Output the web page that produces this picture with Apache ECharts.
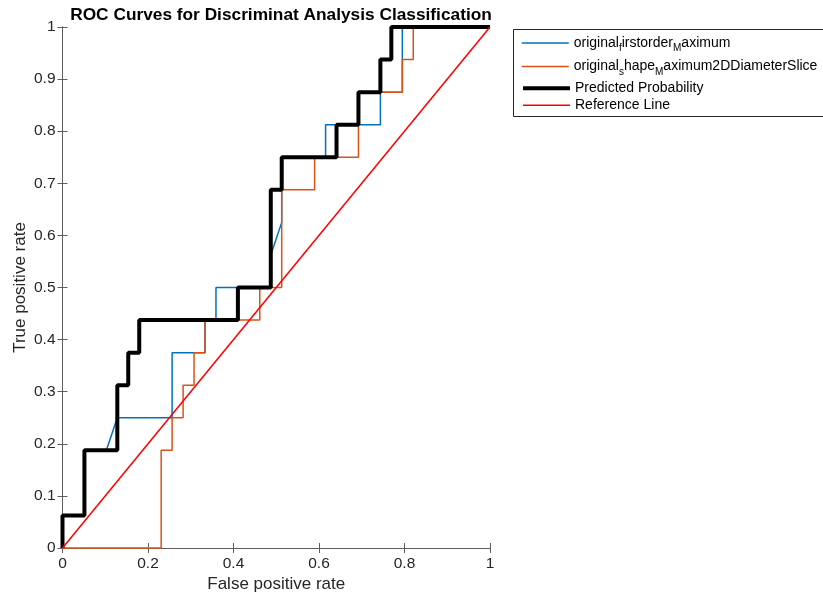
<!DOCTYPE html>
<html>
<head>
<meta charset="utf-8">
<script src="https://cdn.jsdelivr.net/npm/echarts@6/dist/echarts.min.js"></script>
<style>
  html, body { margin: 0; padding: 0; background: #fff; }
  #chart { width: 823px; height: 599px; }
</style>
</head>
<body>
<div id="chart"></div>
<script>
// ROC curve points (false positive rate, true positive rate) for each classifier
const firstorderFpr = [0, 0, 0.0513, 0.0513, 0.1026, 0.1282, 0.2564, 0.2564, 0.3333, 0.3333, 0.3590, 0.3590,
  0.4872, 0.4872, 0.5128, 0.5128, 0.6154, 0.6154, 0.7436, 0.7436, 0.7949, 0.7949, 1];
const firstorderTpr = [0, 0.0625, 0.0625, 0.1875, 0.1875, 0.25, 0.25, 0.375, 0.375, 0.4375, 0.4375, 0.5,
  0.5, 0.5625, 0.625, 0.75, 0.75, 0.8125, 0.8125, 0.875, 0.875, 1, 1];

const shapeFpr = [0, 0.2308, 0.2308, 0.2564, 0.2564, 0.2821, 0.2821, 0.3077, 0.3077, 0.3333, 0.3333, 0.4615,
  0.4615, 0.5128, 0.5128, 0.5897, 0.5897, 0.6923, 0.6923, 0.7949, 0.7949, 0.8205, 0.8205, 1];
const shapeTpr = [0, 0, 0.1875, 0.1875, 0.25, 0.25, 0.3125, 0.3125, 0.375, 0.375, 0.4375, 0.4375,
  0.5, 0.5, 0.6875, 0.6875, 0.75, 0.75, 0.875, 0.875, 0.9375, 0.9375, 1, 1];

const predictedFpr = [0, 0, 0.0513, 0.0513, 0.1282, 0.1282, 0.1538, 0.1538, 0.1795, 0.1795, 0.4103, 0.4103,
  0.4872, 0.4872, 0.5128, 0.5128, 0.6410, 0.6410, 0.6923, 0.6923, 0.7436, 0.7436, 0.7692, 0.7692, 1];
const predictedTpr = [0, 0.0625, 0.0625, 0.1875, 0.1875, 0.3125, 0.3125, 0.375, 0.375, 0.4375, 0.4375, 0.5,
  0.5, 0.6875, 0.6875, 0.75, 0.75, 0.8125, 0.8125, 0.875, 0.875, 0.9375, 0.9375, 1, 1];

const referenceFpr = [0, 1];
const referenceTpr = [0, 1];

const seriesNames = [
  'original_firstorder_Maximum',
  'original_shape_Maximum2DDiameterSlice',
  'Predicted Probability',
  'Reference Line'
];
// legend text with MATLAB-style underscore subscripts
const legendLabels = [
  '{a|original}{b|f}{a|irstorder}{b|M}{a|aximum}',
  '{a|original}{b|s}{a|hape}{b|M}{a|aximum2DDiameterSlice}',
  '{p|Predicted Probability}',
  '{p|Reference Line}'
];

const zip = (xs, ys) => xs.map((x, i) => [x, ys[i]]);

const FONT = 'Liberation Sans, Arial, Helvetica, sans-serif';
const AXIS_GRAY = '#5e5e5e';
const TEXT = '#262626';
const COLORS = ['#0072BD', '#D95319', '#000000', '#FF0000'];
const WIDTHS = [1.5, 1.5, 4, 1.5];

const chart = echarts.init(document.getElementById('chart'), null, { renderer: 'canvas' });

const lineSeries = (i, data) => ({
  name: seriesNames[i], type: 'line', data, showSymbol: false, symbol: 'none',
  lineStyle: { color: COLORS[i], width: WIDTHS[i] }, itemStyle: { color: COLORS[i] },
  animation: false, silent: true, clip: false
});

const frameAxis = {
  min: 0, max: 1, type: 'value',
  axisLine: { show: true, lineStyle: { color: AXIS_GRAY, width: 1 } },
  axisTick: { show: true, inside: true, length: 5, lineStyle: { color: AXIS_GRAY } },
  axisLabel: { show: false }, splitLine: { show: false }
};

const legendText = {
  fontFamily: FONT, color: '#000',
  rich: {
    a: { fontFamily: FONT, fontSize: 14, height: 17, lineHeight: 17, verticalAlign: 'top', color: '#000' },
    b: { fontFamily: FONT, fontSize: 10, height: 12, lineHeight: 12, padding: [8, 0, 0, 0], verticalAlign: 'top', color: '#000' },
    p: { fontFamily: FONT, fontSize: 14, height: 17, lineHeight: 17, color: '#000' }
  }
};

// legend entries: plain line sample, no marker
const legendItem = (i) => ({
  name: seriesNames[i],
  itemStyle: { opacity: 0 },
  lineStyle: { color: COLORS[i], width: WIDTHS[i] }
});

const legendBase = {
  orient: 'vertical', left: 514, itemWidth: 47,
  padding: [0, 0, 0, 7], selectedMode: false,
  itemStyle: { opacity: 0 },
  formatter: (name) => legendLabels[seriesNames.indexOf(name)],
  textStyle: legendText
};

chart.setOption({
  backgroundColor: '#fff',
  animation: false,
  title: {
    text: 'ROC Curves for Discriminat Analysis Classification',
    left: 276, top: 2, textAlign: 'center',
    textStyle: { fontFamily: FONT, fontSize: 17.3, fontWeight: 'bold', color: '#000' }
  },
  grid: { left: 62.5, top: 27, width: 427.5, height: 521, containLabel: false },
  legend: [
    Object.assign({}, legendBase, {
      top: 32.9, itemHeight: 25, itemGap: 2,
      data: [legendItem(0), legendItem(1)]
    }),
    Object.assign({}, legendBase, {
      top: 79.8, itemHeight: 17, itemGap: 0,
      data: [legendItem(2), legendItem(3)]
    })
  ],
  graphic: [{
    type: 'rect', silent: true, z: 0,
    shape: { x: 513.5, y: 29.5, width: 420, height: 87 },
    style: { fill: '#fff', stroke: TEXT, lineWidth: 1 }
  }],
  xAxis: [
    {
      type: 'value', min: 0, max: 1, interval: 0.2, position: 'bottom',
      name: 'False positive rate', nameLocation: 'middle', nameGap: 28, nameMoveOverlap: false,
      nameTextStyle: { fontFamily: FONT, fontSize: 17, color: TEXT },
      axisLine: { show: true, onZero: false, lineStyle: { color: AXIS_GRAY, width: 1 } },
      axisTick: { show: true, inside: true, length: 5, lineStyle: { color: AXIS_GRAY } },
      axisLabel: { fontFamily: FONT, fontSize: 15.5, color: TEXT, margin: 8 },
      splitLine: { show: false }
    },
    Object.assign({ position: 'top', interval: 0.2 }, frameAxis)
  ],
  yAxis: [
    {
      type: 'value', min: 0, max: 1, interval: 0.1, position: 'left',
      name: 'True positive rate', nameLocation: 'middle', nameGap: 34, nameRotate: 90, nameMoveOverlap: false,
      nameTextStyle: { fontFamily: FONT, fontSize: 17, color: TEXT },
      axisLine: { show: true, onZero: false, lineStyle: { color: AXIS_GRAY, width: 1 } },
      axisTick: { show: true, inside: true, length: 5, lineStyle: { color: AXIS_GRAY } },
      axisLabel: { fontFamily: FONT, fontSize: 15.5, color: TEXT, margin: 7 },
      splitLine: { show: false }
    },
    Object.assign({ position: 'right', interval: 0.1 }, frameAxis)
  ],
  series: [
    lineSeries(0, zip(firstorderFpr, firstorderTpr)),
    lineSeries(1, zip(shapeFpr, shapeTpr)),
    lineSeries(2, zip(predictedFpr, predictedTpr)),
    lineSeries(3, zip(referenceFpr, referenceTpr))
  ]
});
</script>
</body>
</html>
